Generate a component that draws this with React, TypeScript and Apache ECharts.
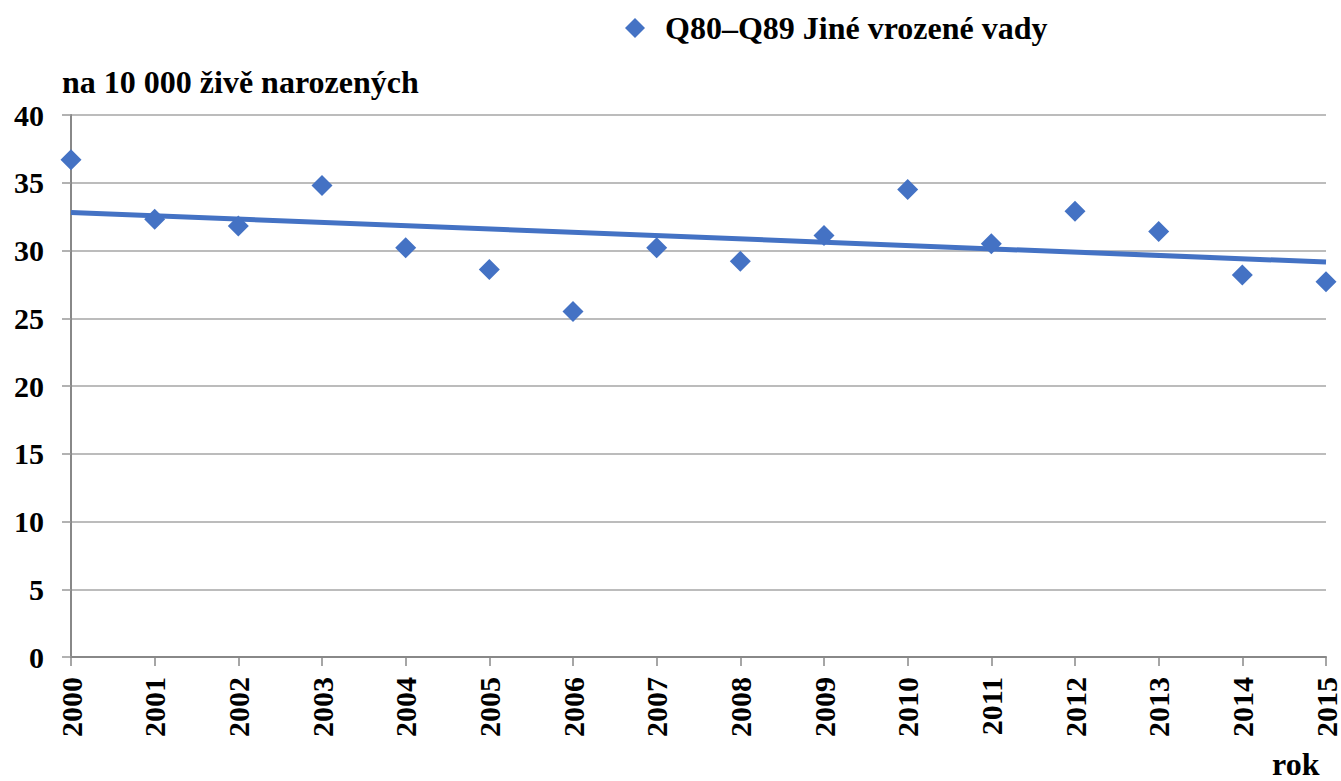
import React, { useEffect, useRef } from "react";
import * as echarts from "echarts";

const years = ["2000","2001","2002","2003","2004","2005","2006","2007","2008","2009","2010","2011","2012","2013","2014","2015"];
const values = [36.7, 32.3, 31.8, 34.8, 30.2, 28.6, 25.5, 30.2, 29.2, 31.1, 34.5, 30.5, 32.9, 31.4, 28.2, 27.7];
const trendYears = ["2000", "2015"];
const trendValues = [32.8, 29.15];
const seriesName = "Q80–Q89 Jiné vrozené vady";
const yAxisTitle = "na 10 000 živě narozených";
const xAxisTitle = "rok";

const FONT = "Liberation Serif";

export default function App() {
  const ref = useRef<HTMLDivElement>(null);
  useEffect(() => {
    if (!ref.current) return;
    const chart = echarts.init(ref.current, null, { renderer: "svg" });
    chart.setOption({
      animation: false,
      backgroundColor: "#fff",
      textStyle: { fontFamily: FONT },
      grid: { left: 71, right: 15, top: 115, bottom: 124, containLabel: false },
      legend: {
        data: [{ name: seriesName, icon: "diamond" }],
        left: 625,
        top: 12,
        padding: 0,
        itemWidth: 20,
        itemHeight: 20,
        textStyle: {
          fontFamily: FONT,
          fontWeight: "bold",
          fontSize: 32,
          color: "#000",
          padding: [0, 0, 0, 15],
        },
      },
      graphic: [
        {
          type: "text",
          left: 62,
          top: 66,
          style: { text: yAxisTitle, fontFamily: FONT, fontWeight: "bold", fontSize: 32, fill: "#000" },
        },
        {
          type: "text",
          left: 1272,
          top: 748,
          style: { text: xAxisTitle, fontFamily: FONT, fontWeight: "bold", fontSize: 32, fill: "#000" },
        },
      ],
      xAxis: {
        type: "category",
        data: years,
        boundaryGap: false,
        axisLine: { lineStyle: { color: "#888", width: 2 } },
        axisTick: { show: true, length: 9, lineStyle: { color: "#888", width: 1.5 } },
        axisLabel: {
          rotate: 90,
          margin: 20,
          fontFamily: FONT,
          fontWeight: "bold",
          fontSize: 30,
          lineHeight: 28,
          color: "#000",
        },
      },
      yAxis: {
        type: "value",
        min: 0,
        max: 40,
        interval: 5,
        axisLine: { show: true, lineStyle: { color: "#888", width: 2 } },
        axisTick: { show: true, length: 9, lineStyle: { color: "#999", width: 1.5 } },
        splitLine: { lineStyle: { color: "#a6a6a6", width: 1.5 } },
        axisLabel: {
          margin: 27,
          fontFamily: FONT,
          fontWeight: "bold",
          fontSize: 30,
          color: "#000",
        },
      },
      series: [
        {
          name: "trend",
          type: "line",
          data: trendYears.map((y, i) => [y, trendValues[i]]),
          showSymbol: false,
          symbol: "none",
          lineStyle: { color: "#4472C4", width: 5 },
          z: 2,
        },
        {
          name: seriesName,
          type: "scatter",
          data: values,
          symbol: "diamond",
          symbolSize: 21,
          itemStyle: { color: "#4472C4", opacity: 1 },
          z: 3,
        },
      ],
    });
    return () => chart.dispose();
  }, []);
  return (
    <div
      ref={ref}
      style={{ position: "absolute", left: 0, top: 0, width: 1341, height: 781 }}
    />
  );
}
